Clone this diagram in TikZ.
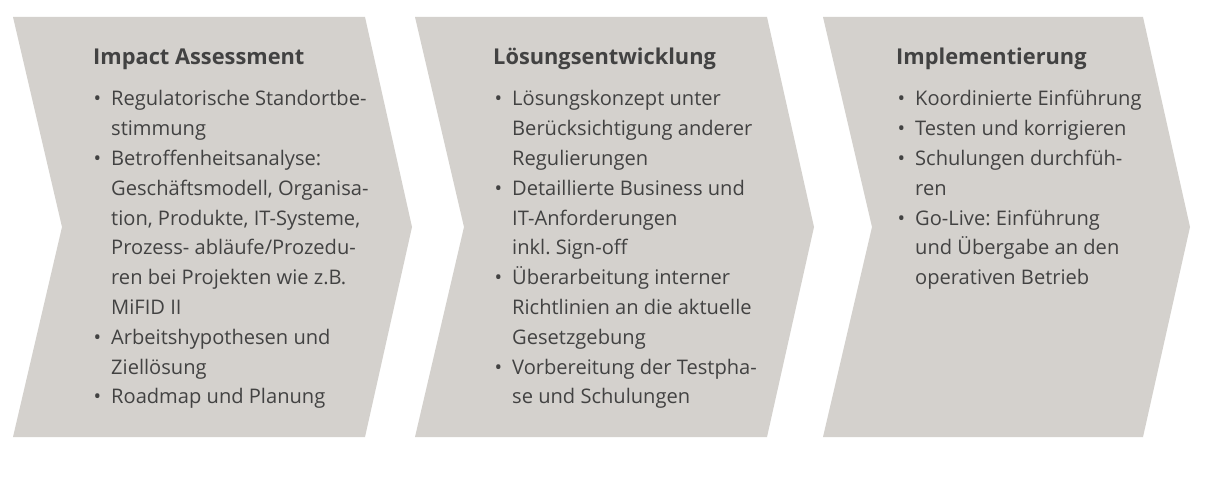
\documentclass[tikz,border=0pt]{standalone}
\usepackage{fontspec}
\setmainfont{Open Sans}
\definecolor{chevfill}{RGB}{212,209,205}
\definecolor{txt}{RGB}{66,66,66}
\newcommand{\bul}{\leavevmode\llap{\textbullet\hspace{10pt}}}
\tikzset{
  chev/.style={fill=chevfill, draw=none},
  titletext/.style={anchor=base west, inner sep=0pt, text=txt, font=\fontsize{21.8}{26}\selectfont\bfseries},
  bodytext/.style={anchor=base west, inner sep=0pt, text=txt, font=\fontsize{20.1}{29.8}\selectfont\frenchspacing}
}
\begin{document}
\begin{tikzpicture}[x=1pt,y=-1pt]
\useasboundingbox[fill=white] (0,0) rectangle (1208,500);
\fill[chev] (13,17) -- (365,17) -- (412,227) -- (365,437) -- (13,437) -- (62,227) -- cycle;
\fill[chev] (415,17) -- (767,17) -- (814,227) -- (767,437) -- (415,437) -- (464,227) -- cycle;
\fill[chev] (823,17) -- (1143,17) -- (1190,227) -- (1143,437) -- (823,437) -- (872,227) -- cycle;

\node[titletext] (t1) at (93,65) {Impact Assessment};
\node[bodytext] (b1) at (111,106) {\parbox[t]{300pt}{\raggedright
\bul Regulatorische Standortbe-\\
stimmung\\
\bul Betroffenheitsanalyse:\\
Geschäftsmodell, Organisa-\\
tion, Produkte, IT-Systeme,\\
Prozess- abläufe/Prozedu-\\
ren bei Projekten wie z.B.\\
MiFID II\\
\bul Arbeitshypothesen und\\
Ziellösung\\
\bul Roadmap und Planung}};

\node[titletext] (t2) at (493,65) {Lösungsentwicklung};
\node[bodytext] (b2) at (512,106) {\parbox[t]{300pt}{\raggedright
\bul Lösungskonzept unter\\
Berücksichtigung anderer\\
Regulierungen\\
\bul Detaillierte Business und\\
IT-Anforderungen\\
inkl. Sign-off\\
\bul Überarbeitung interner\\
Richtlinien an die aktuelle\\
Gesetzgebung\\
\bul Vorbereitung der Testpha-\\
se und Schulungen}};

\node[titletext] (t3) at (896,65) {Implementierung};
\node[bodytext] (b3) at (915,106) {\parbox[t]{300pt}{\raggedright
\bul Koordinierte Einführung\\
\bul Testen und korrigieren\\
\bul Schulungen durchfüh-\\
ren\\
\bul Go-Live: Einführung\\
und Übergabe an den\\
operativen Betrieb}};
\end{tikzpicture}
\end{document}
